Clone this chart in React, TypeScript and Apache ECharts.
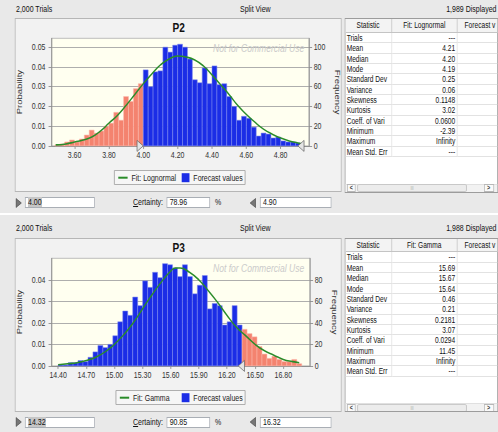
import React, { useEffect, useMemo, useRef } from 'react';
import * as echarts from 'echarts';

// ---------- layout basics ----------
const W = 640;
const SX = 498 / W;
const FONT = '"Liberation Sans", Arial, sans-serif';
const BLUE = '#1b2de6';
const BLUE_EDGE = '#7f8af0';
const RED = '#f4836f';
const RED_EDGE = '#fbb9ad';
const GREEN = '#2a8c2a';

// ---------- P2 data ----------
const p2Title = 'P2';
const p2Trials = '2,000 Trials';
const p2Displayed = '1,989 Displayed';
const p2FitName = 'Fit: Lognormal';
const p2N = 1989;
const p2BinStart = 3.485;
const p2BinWidth = 0.0286;
const p2Freq = [
  1, 2, 4, 6, 4, 7, 11, 16, 13, 15, 20, 23, 34, 26, 50, 45, 58, 63,
  77, 60, 75, 76, 100, 95, 102, 103, 100, 88, 67, 64, 79, 63, 81, 62, 63, 50,
  40, 26, 30, 28, 19, 10, 13, 12, 8, 9, 5, 4, 4, 3,
];
const p2CurveX = [3.49, 3.55, 3.6, 3.65, 3.7, 3.75, 3.8, 3.85, 3.9, 3.95, 4.0, 4.05, 4.1, 4.15, 4.2, 4.25, 4.3, 4.35, 4.4, 4.45, 4.5, 4.55, 4.6, 4.65, 4.7, 4.75, 4.8, 4.85, 4.9, 4.93];
const p2CurveY = [1, 2, 4, 6, 9, 15, 23, 31, 41, 52, 63, 73, 82, 88, 91, 90, 87, 81, 72, 62, 52, 41, 32, 24, 17, 12, 8, 5, 3, 2];
const p2XTicks = [3.6, 3.8, 4.0, 4.2, 4.4, 4.6, 4.8];
const p2FreqTicks = [0, 20, 40, 60, 80, 100];
const p2ProbLabels = ['0.00', '0.01', '0.02', '0.03', '0.04', '0.05'];
const p2Range = [4.0, 4.9];
const p2RangeText = ['4.00', '4.90'];
const p2Certainty = '78.96';
const p2StatValues = ['---', '4.21', '4.20', '4.19', '0.25', '0.06', '0.1148', '3.02', '0.0600', '-2.39', 'Infinity', '---'];

// ---------- P3 data ----------
const p3Title = 'P3';
const p3Trials = '2,000 Trials';
const p3Displayed = '1,988 Displayed';
const p3FitName = 'Fit: Gamma';
const p3N = 1988;
const p3BinStart = 14.4;
const p3BinWidth = 0.053;
const p3Freq = [
  1, 1, 3, 3, 5, 4, 8, 13, 19, 17, 20, 28, 41, 51, 47, 64, 56, 79, 73, 87,
  82, 95, 94, 91, 83, 94, 83, 67, 75, 84, 53, 58, 56, 38, 41, 56, 38, 34, 30, 27,
  18, 11, 7, 9, 6, 4, 4, 6, 2,
];
const p3CurveX = [14.4, 14.5, 14.6, 14.7, 14.8, 14.9, 15.0, 15.1, 15.2, 15.3, 15.4, 15.5, 15.6, 15.65, 15.7, 15.8, 15.9, 16.0, 16.1, 16.2, 16.3, 16.4, 16.5, 16.6, 16.7, 16.8, 16.9, 16.97];
const p3CurveY = [1, 2, 3, 5, 8, 13, 20, 29, 40, 53, 66, 78, 88, 91, 91, 87, 80, 70, 59, 47, 36, 28, 20, 14, 10, 6, 4, 3];
const p3XTicks = [14.4, 14.7, 15.0, 15.3, 15.6, 15.9, 16.2, 16.5, 16.8];
const p3FreqTicks = [0, 20, 40, 60, 80];
const p3ProbLabels = ['0.00', '0.01', '0.02', '0.03', '0.04'];
const p3Range = [14.32, 16.32];
const p3RangeText = ['14.32', '16.32'];
const p3Certainty = '90.85';
const p3StatValues = ['---', '15.69', '15.67', '15.64', '0.46', '0.21', '0.2181', '3.07', '0.0294', '11.45', 'Infinity', '---'];

const statLabels = ['Trials', 'Mean', 'Median', 'Mode', 'Standard Dev', 'Variance', 'Skewness', 'Kurtosis', 'Coeff. of Vari', 'Minimum', 'Maximum', 'Mean Std. Err'];
const statHeader = 'Statistic';
const forecastHeader = 'Forecast v';
const watermark = 'Not for Commercial Use';

type Cfg = {
  title: string;
  fitName: string;
  N: number;
  binStart: number;
  binWidth: number;
  freq: number[];
  curveX: number[];
  curveY: number[];
  xTicks: number[];
  freqTicks: number[];
  probLabels: string[];
  range: number[];
  xMin: number;
  xMax: number;
  yMax: number;
  gridW: number;
  legendBoxX: number;
  legendBoxW: number;
  legendLineLeft: number;
};

const TRI_RIGHT = 'path://M0,0L8,5.5L0,11Z';
const TRI_LEFT = 'path://M8,0L0,5.5L8,11Z';

function buildOption(c: Cfg): any {
  const bars = c.freq.map((f, i) => [c.binStart + i * c.binWidth, c.binStart + (i + 1) * c.binWidth, f]);
  const curve = c.curveX.map((x, i) => [x, c.curveY[i]]);
  const lo = c.range[0];
  const hi = c.range[1];
  const axisGray = '#8c8c8c';
  const labelStyle = { fontFamily: FONT, fontSize: 9, color: '#333' };
  const yCommon = {
    type: 'value',
    min: 0,
    max: c.yMax,
    interval: 20,
    nameLocation: 'middle',
    nameTextStyle: { fontFamily: FONT, fontSize: 9.5, color: '#333' },
    axisLine: { show: true, lineStyle: { color: axisGray } },
    axisTick: { show: true, customValues: c.freqTicks, length: 4, lineStyle: { color: axisGray } },
  };
  return {
    animation: false,
    textStyle: { fontFamily: FONT },
    grid: {
      left: 66.4,
      top: 38.3,
      width: c.gridW,
      height: 107.6,
      show: true,
      backgroundColor: '#fffff0',
      borderColor: '#b4b4b4',
      borderWidth: 1,
    },
    xAxis: {
      type: 'value',
      min: c.xMin,
      max: c.xMax,
      splitLine: { show: false },
      axisLine: { show: true, onZero: false, lineStyle: { color: axisGray } },
      axisTick: { show: true, customValues: c.xTicks, length: 3, lineStyle: { color: axisGray } },
      axisLabel: { ...labelStyle, customValues: c.xTicks, margin: 5, formatter: (v: number) => v.toFixed(2) },
    },
    yAxis: [
      {
        ...yCommon,
        position: 'left',
        name: 'Probability',
        nameGap: 30,
        splitLine: { show: true, lineStyle: { color: '#a4a4a4', width: 1 } },
        axisLabel: {
          ...labelStyle,
          customValues: c.freqTicks,
          margin: 8,
          formatter: (v: number) => c.probLabels[c.freqTicks.indexOf(Math.round(v))] ?? '',
        },
      },
      {
        ...yCommon,
        position: 'right',
        name: 'Frequency',
        nameRotate: -90,
        nameGap: 21,
        splitLine: { show: false },
        axisLabel: { ...labelStyle, customValues: c.freqTicks, margin: 6 },
      },
    ],
    legend: [
      {
        data: [{ name: c.fitName, icon: 'rect' }],
        left: c.legendLineLeft,
        top: 172.2,
        padding: 0,
        itemWidth: 12,
        itemHeight: 2,
        selectedMode: false,
        textStyle: { fontFamily: FONT, fontSize: 9, color: '#222', lineHeight: 11 },
      },
      {
        data: [{ name: 'Forecast values', icon: 'rect' }],
        left: 233.5,
        top: 172.2,
        padding: 0,
        itemWidth: 10,
        itemHeight: 9,
        selectedMode: false,
        textStyle: { fontFamily: FONT, fontSize: 9, color: '#222', lineHeight: 11 },
      },
    ],
    graphic: [
      {
        type: 'rect',
        z: -1,
        shape: { x: c.legendBoxX, y: 170.5, width: c.legendBoxW, height: 14 },
        style: { fill: '#f6f6f6', stroke: '#a6a6a6', lineWidth: 1 },
      },
      {
        type: 'text',
        x: 229.5,
        y: 26.7,
        style: {
          text: c.title,
          fontFamily: FONT,
          fontSize: 13,
          fontWeight: 'bold',
          fill: '#111',
          align: 'center',
          verticalAlign: 'middle',
        },
      },
      {
        type: 'text',
        x: 391,
        y: 48.5,
        z: 1,
        style: {
          text: watermark,
          fontFamily: FONT,
          fontSize: 11,
          fontStyle: 'italic',
          fill: '#cbcbcb',
          align: 'right',
          verticalAlign: 'middle',
        },
      },
    ],
    series: [
      {
        type: 'custom',
        name: 'Forecast values',
        data: bars,
        encode: { x: [0, 1], y: 2 },
        itemStyle: { color: BLUE },
        z: 2,
        renderItem: (params: any, api: any) => {
          const x0 = api.value(0);
          const x1 = api.value(1);
          const f = api.value(2);
          const tl = api.coord([x0, f]);
          const br = api.coord([x1, 0]);
          const inRange = x1 > lo + 1e-9 && x0 < hi - 1e-9;
          return {
            type: 'rect',
            shape: { x: tl[0], y: tl[1], width: br[0] - tl[0], height: br[1] - tl[1] },
            style: {
              fill: inRange ? BLUE : RED,
              stroke: inRange ? BLUE_EDGE : RED_EDGE,
              lineWidth: 0.6,
            },
          };
        },
      },
      {
        type: 'line',
        name: c.fitName,
        yAxisIndex: 1,
        data: curve,
        smooth: true,
        symbol: 'none',
        showSymbol: false,
        lineStyle: { color: GREEN, width: 1.6 },
        itemStyle: { color: GREEN },
        z: 3,
        markPoint: {
          silent: true,
          label: { show: false },
          itemStyle: { color: '#e4e4e4', borderColor: '#666', borderWidth: 0.8 },
          data: [
            { coord: [lo, 0], symbol: TRI_RIGHT, symbolSize: [8, 11], symbolOffset: [-4, 0] },
            { coord: [hi, 0], symbol: TRI_LEFT, symbolSize: [8, 11], symbolOffset: [4, 0] },
          ],
        },
      },
    ],
  };
}

function EChart({ option, style }: { option: any; style: React.CSSProperties }) {
  const ref = useRef<HTMLDivElement>(null);
  useEffect(() => {
    if (!ref.current) return;
    const chart = echarts.init(ref.current, undefined, { renderer: 'svg' });
    chart.setOption(option);
    return () => chart.dispose();
  }, [option]);
  return <div ref={ref} style={style} />;
}

function T({ left, right, top, children, style }: any) {
  return (
    <div
      style={{
        position: 'absolute',
        left,
        right,
        top,
        fontSize: 9,
        lineHeight: '11px',
        whiteSpace: 'nowrap',
        color: '#111',
        ...style,
      }}
    >
      {children}
    </div>
  );
}

function Tri({ left, top, dir }: { left: number; top: number; dir: 'r' | 'l' }) {
  const pts = dir === 'r' ? '0.5,0.5 7.5,5 0.5,9.5' : '7.5,0.5 0.5,5 7.5,9.5';
  return (
    <svg width={8} height={10} style={{ position: 'absolute', left, top }}>
      <polygon points={pts} fill="#767676" stroke="#4c4c4c" strokeWidth={0.8} />
    </svg>
  );
}

function Input({ left, width, text, selected }: { left: number; width: number; text: string; selected?: boolean }) {
  return (
    <div
      style={{
        position: 'absolute',
        left,
        top: 197.3,
        width,
        height: 11,
        boxSizing: 'border-box',
        border: '1px solid #a9aeb5',
        background: '#fff',
        fontSize: 9,
        lineHeight: '9px',
        paddingLeft: 3,
        color: '#111',
        whiteSpace: 'nowrap',
      }}
    >
      <span style={{ background: selected ? '#c6c6c6' : 'transparent' }}>{text}</span>
    </div>
  );
}

function StatTable({ fitHeader, values }: { fitHeader: string; values: string[] }) {
  const c1 = 60;
  const c2 = 84.5;
  const headH = 13.7;
  const rowH = 10.35;
  const lineC = '#e2e2e2';
  return (
    <div
      style={{
        position: 'absolute',
        left: 442.5,
        top: 18.3,
        width: W - 442.5,
        height: 174.7,
        boxSizing: 'border-box',
        border: '1px solid #9c9c9c',
        background: '#fff',
        overflow: 'hidden',
        fontSize: 8.5,
        color: '#111',
      }}
    >
      <div style={{ position: 'absolute', left: 0, top: 0, width: 300, height: headH, background: '#f3f3f3', borderBottom: '1px solid #c4c4c4', boxSizing: 'border-box' }} />
      {[
        [statHeader, 0, c1, 'center'],
        [fitHeader, c1, c2, 'center'],
        [forecastHeader, c1 + c2, 60, 'left'],
      ].map(([txt, l, w, al]: any, i) => (
        <div
          key={i}
          style={{
            position: 'absolute',
            left: l,
            top: 0,
            width: w,
            height: headH,
            lineHeight: `${headH}px`,
            textAlign: al,
            paddingLeft: al === 'left' ? 9 : 0,
            borderRight: i < 2 ? '1px solid #c4c4c4' : 'none',
            boxSizing: 'border-box',
            whiteSpace: 'nowrap',
          }}
        >
          {txt}
        </div>
      ))}
      {statLabels.map((lab, i) => (
        <React.Fragment key={lab}>
          <div
            style={{
              position: 'absolute',
              left: 0,
              top: headH + i * rowH,
              width: c1,
              height: rowH,
              lineHeight: `${rowH}px`,
              paddingLeft: 2,
              boxSizing: 'border-box',
              borderRight: `1px solid ${lineC}`,
              borderBottom: `1px solid ${lineC}`,
              whiteSpace: 'nowrap',
            }}
          >
            {lab}
          </div>
          <div
            style={{
              position: 'absolute',
              left: c1,
              top: headH + i * rowH,
              width: c2,
              height: rowH,
              lineHeight: `${rowH}px`,
              paddingRight: 2,
              textAlign: 'right',
              boxSizing: 'border-box',
              borderRight: `1px solid ${lineC}`,
              borderBottom: `1px solid ${lineC}`,
              whiteSpace: 'nowrap',
            }}
          >
            {values[i]}
          </div>
          <div
            style={{
              position: 'absolute',
              left: c1 + c2,
              top: headH + i * rowH,
              width: 80,
              height: rowH,
              boxSizing: 'border-box',
              borderBottom: `1px solid ${lineC}`,
            }}
          />
        </React.Fragment>
      ))}
      {/* scrollbar */}
      <div style={{ position: 'absolute', left: 0, top: 164.3, width: 200, height: 9.5, background: '#f2f2f2', borderTop: '1px solid #e0e0e0', boxSizing: 'border-box' }} />
      <div style={{ position: 'absolute', left: 2.5, top: 165, width: 11, height: 8, border: '1px solid #b8b8b8', background: '#fafafa', boxSizing: 'border-box', fontSize: 7, lineHeight: '6px', textAlign: 'center', fontWeight: 'bold', color: '#333' }}>{'<'}</div>
      <div style={{ position: 'absolute', left: 15.5, top: 165, width: 141, height: 8, border: '1px solid #c4c4c4', borderRadius: 2, background: '#ececec', boxSizing: 'border-box', fontSize: 5, lineHeight: '6px', textAlign: 'center', color: '#aaa' }}>{'III'}</div>
      <div style={{ position: 'absolute', left: 178, top: 165, width: 13, height: 8, border: '1px solid #b8b8b8', background: '#fafafa', boxSizing: 'border-box', fontSize: 7, lineHeight: '6px', textAlign: 'center', fontWeight: 'bold', color: '#333' }}>{'>'}</div>
    </div>
  );
}

function Panel(props: {
  top: number;
  bgTop: number;
  trials: string;
  displayed: string;
  option: any;
  fitHeader: string;
  values: string[];
  loText: string;
  hiText: string;
  certainty: string;
}) {
  const { top, bgTop } = props;
  return (
    <div style={{ position: 'absolute', left: 0, top, width: W, height: 213 }}>
      <div style={{ position: 'absolute', left: 0, top: bgTop, width: W, height: 212.5 - bgTop, background: '#e9e9e9' }} />
      <T left={20.6} top={3.8}>{props.trials}</T>
      <T left={308.4} top={3.8}>Split View</T>
      <T right={2} top={3.8}>{props.displayed}</T>
      <div
        style={{
          position: 'absolute',
          left: 19.3,
          top: 18.3,
          width: 420.2,
          height: 174.2,
          boxSizing: 'border-box',
          border: '1px solid #b6b6b6',
          background: '#f2f2f2',
        }}
      />
      <EChart option={props.option} style={{ position: 'absolute', left: 0, top: 0, width: W, height: 213 }} />
      <StatTable fitHeader={props.fitHeader} values={props.values} />
      <Tri left={19.5} top={197.8} dir="r" />
      <Input left={32} width={90} text={props.loText} selected />
      <T left={171} top={197.3}>
        <span style={{ textDecoration: 'underline' }}>C</span>ertainty:
      </T>
      <Input left={214} width={56} text={props.certainty} />
      <T left={276.3} top={197.3}>%</T>
      <Tri left={321} top={197.8} dir="l" />
      <Input left={334} width={92} text={props.hiText} />
    </div>
  );
}

export default function App() {
  const opt2 = useMemo(
    () =>
      buildOption({
        title: p2Title,
        fitName: p2FitName,
        N: p2N,
        binStart: p2BinStart,
        binWidth: p2BinWidth,
        freq: p2Freq,
        curveX: p2CurveX,
        curveY: p2CurveY,
        xTicks: p2XTicks,
        freqTicks: p2FreqTicks,
        probLabels: p2ProbLabels,
        range: p2Range,
        xMin: 3.4665,
        xMax: 4.965,
        yMax: 109,
        gridW: 330.7,
        legendBoxX: 147,
        legendBoxW: 168,
        legendLineLeft: 152,
      }),
    []
  );
  const opt3 = useMemo(
    () =>
      buildOption({
        title: p3Title,
        fitName: p3FitName,
        N: p3N,
        binStart: p3BinStart,
        binWidth: p3BinWidth,
        freq: p3Freq,
        curveX: p3CurveX,
        curveY: p3CurveY,
        xTicks: p3XTicks,
        freqTicks: p3FreqTicks,
        probLabels: p3ProbLabels,
        range: p3Range,
        xMin: 14.331,
        xMax: 17.085,
        yMax: 100,
        gridW: 332,
        legendBoxX: 149,
        legendBoxW: 166,
        legendLineLeft: 154,
      }),
    []
  );
  return (
    <div
      style={{
        position: 'fixed',
        left: 0,
        top: 0,
        width: W,
        height: 432,
        overflow: 'hidden',
        background: '#ffffff',
        transform: `scaleX(${SX})`,
        transformOrigin: '0 0',
        fontFamily: FONT,
      }}
    >
      <Panel
        top={0}
        bgTop={0}
        trials={p2Trials}
        displayed={p2Displayed}
        option={opt2}
        fitHeader={p2FitName}
        values={p2StatValues}
        loText={p2RangeText[0]}
        hiText={p2RangeText[1]}
        certainty={p2Certainty}
      />
      <Panel
        top={219.5}
        bgTop={-4.5}
        trials={p3Trials}
        displayed={p3Displayed}
        option={opt3}
        fitHeader={p3FitName}
        values={p3StatValues}
        loText={p3RangeText[0]}
        hiText={p3RangeText[1]}
        certainty={p3Certainty}
      />
    </div>
  );
}
